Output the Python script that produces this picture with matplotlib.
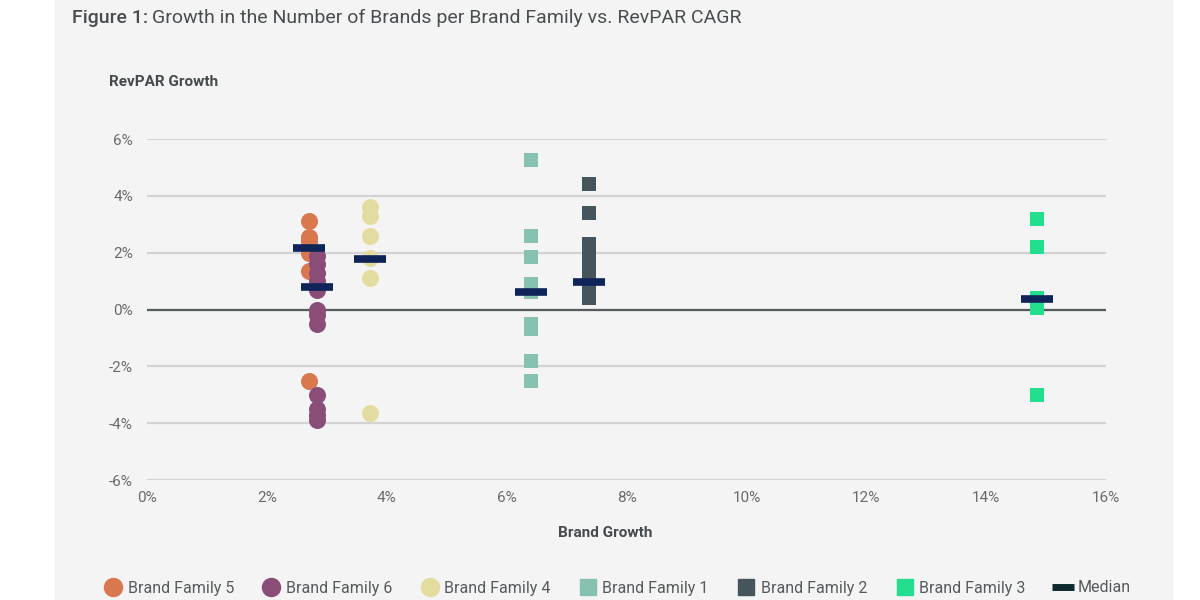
import numpy as np
import matplotlib.pyplot as plt
from matplotlib.lines import Line2D
from matplotlib.patches import Rectangle

plt.rcParams['font.family'] = ['Roboto', 'DejaVu Sans']

# brand growth (x, %) per family, and RevPAR growth (y, %) of each brand
families = ["Brand Family 5", "Brand Family 6", "Brand Family 4",
            "Brand Family 1", "Brand Family 2", "Brand Family 3"]
brand_growth = [2.7, 2.83, 3.72, 6.4, 7.38, 14.85]
revpar_f5 = [3.1, 2.55, 2.4, 2.0, 1.35, -2.5]
revpar_f6 = [1.9, 1.6, 1.3, 1.0, 0.7, 0.0, -0.2, -0.5, -3.0, -3.5, -3.7, -3.9]
revpar_f4 = [3.6, 3.3, 2.6, 1.8, 1.1, -3.65]
revpar_f1 = [5.25, 2.6, 1.85, 0.9, 0.6, -0.5, -0.7, -1.8, -2.5]
revpar_f2 = [4.4, 3.4, 2.3, 2.1, 1.9, 1.6, 1.4, 1.1, 0.9, 0.6, 0.4]
revpar_f3 = [3.2, 2.2, 0.4, 0.05, -3.0]
medians = [2.15, 0.8, 1.77, 0.6, 0.98, 0.37]

revpar = [revpar_f5, revpar_f6, revpar_f4, revpar_f1, revpar_f2, revpar_f3]
colors = ["#d9774f", "#8a4d78", "#e2dd9e", "#86c1b2", "#45555b", "#22de8e"]
markers = ["o", "o", "o", "s", "s", "s"]
median_color = "#0f2459"
bg = "#f4f4f4"

fig = plt.figure(figsize=(12, 6), dpi=100, facecolor="white")
fig.patches.append(Rectangle((55 / 1200, 0), (1172 - 55) / 1200, 1,
                             transform=fig.transFigure, color=bg, zorder=-5))

ax = fig.add_axes([147 / 1200, 0.2, (1106 - 147) / 1200, 0.5683])
ax.set_zorder(2)
ax.set_facecolor(bg)
ax.set_xlim(0, 16)
ax.set_ylim(-6, 6)

ax.set_yticks(np.arange(-6, 7, 2))
ax.set_xticks(np.arange(0, 17, 2))
ax.yaxis.grid(True, color="#d3d3d3", lw=1.6)
ax.set_axisbelow(True)
ax.axhline(0, color="#555a5c", lw=1.6, zorder=1)
for s in ax.spines.values():
    s.set_visible(False)
ax.tick_params(length=0, labelsize=11, labelcolor="#6a6a6a", pad=10)
ax.set_xticklabels([f"{v}%" for v in range(0, 17, 2)])
ax.set_yticklabels([f"{v}%" for v in range(-6, 7, 2)])
ax.tick_params(axis="x", pad=8)

for x, ys, c, m in zip(brand_growth, revpar, colors, markers):
    size = 150 if m == "o" else 90
    ax.scatter([x] * len(ys), ys, s=size, color=c, marker=m, lw=0, zorder=3)

ax.plot(brand_growth, medians, ls="none", marker="_", ms=23, mew=5.5,
        color=median_color, zorder=4)

fig.text(605 / 1200, 1 - 533 / 600, "Brand Growth", fontsize=11,
         fontweight="bold", color="#444a4d", ha="center", va="center")
fig.text(109 / 1200, 1 - 82 / 600, "RevPAR Growth", fontsize=11,
         fontweight="bold", color="#444a4d", va="center")

# title: bold "Figure 1:" then regular text
t1 = fig.text(72 / 1200, 1 - 18 / 600, "Figure 1:", fontsize=14,
              fontweight="medium", color="#484d50", va="center")
fig.canvas.draw()
bb = t1.get_window_extent()
fig.text((bb.x1 + 4) / 1200, 1 - 18 / 600,
         "Growth in the Number of Brands per Brand Family vs. RevPAR CAGR",
         fontsize=14, color="#484d50", va="center")

handles = [Line2D([], [], ls="none", marker=m, color=c, ms=13 if m == "o" else 12)
           for c, m in zip(colors, markers)]
handles.append(Line2D([], [], ls="none", marker="_", ms=16, mew=5,
                      color="#0d2a2e"))
fig.legend(handles, families + ["Median"], loc="center",
           bbox_to_anchor=(617 / 1200, 1 - 588 / 600), ncol=7, frameon=False,
           fontsize=11.5, labelcolor="#555a5c", handletextpad=0.3,
           columnspacing=1.75, handlelength=1.2)

fig.savefig("out.png", dpi=100, facecolor="white")
